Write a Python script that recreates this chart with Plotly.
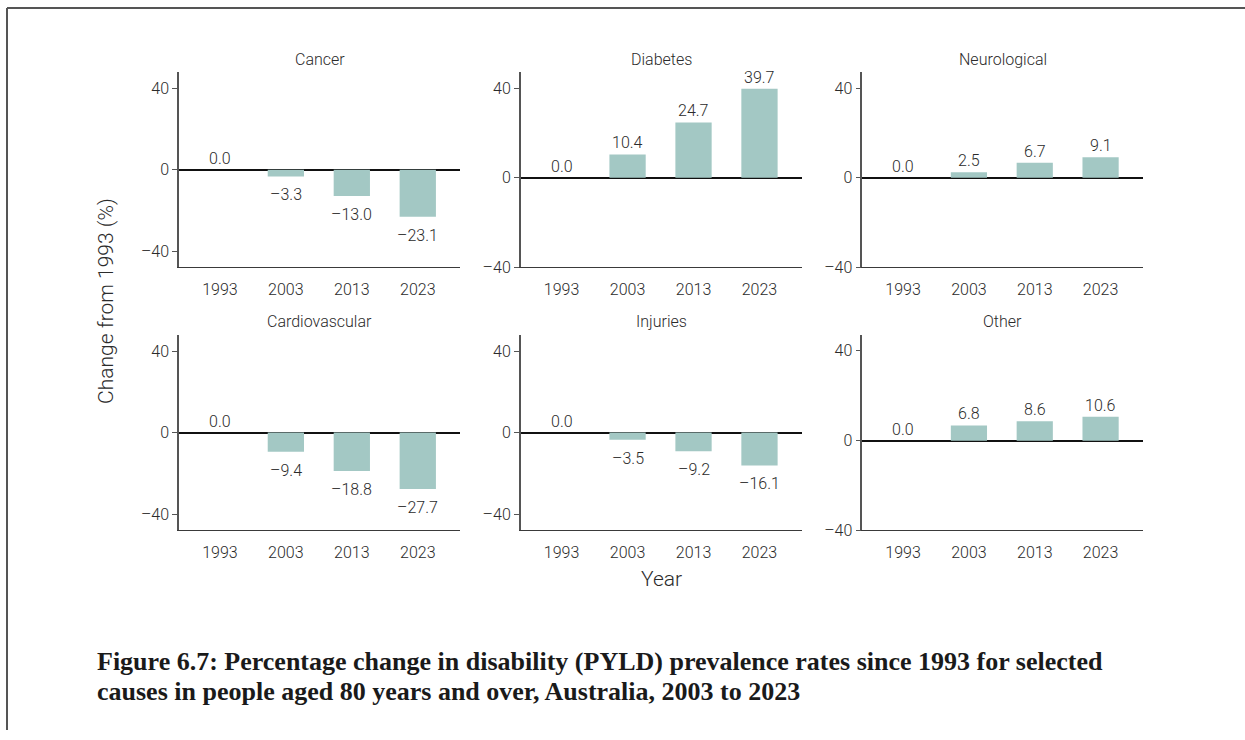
import plotly.graph_objects as go

# Percentage change from 1993 in PYLD prevalence rates, people aged 80+
years = ["1993", "2003", "2013", "2023"]
causes = ["Cancer", "Diabetes", "Neurological", "Cardiovascular", "Injuries", "Other"]
cancer = [0.0, -3.3, -13.0, -23.1]
diabetes = [0.0, 10.4, 24.7, 39.7]
neurological = [0.0, 2.5, 6.7, 9.1]
cardiovascular = [0.0, -9.4, -18.8, -27.7]
injuries = [0.0, -3.5, -9.2, -16.1]
other = [0.0, 6.8, 8.6, 10.6]
series = [cancer, diabetes, neurological, cardiovascular, injuries, other]

y_tick_vals = [-40, 0, 40]
y_tick_text = ["\u201340", "0", "40"]

caption_lines = [
    "Figure 6.7: Percentage change in disability (PYLD) prevalence rates since 1993 for selected",
    "causes in people aged 80 years and over, Australia, 2003 to 2023",
]

W, H = 1245, 740
BAR = "#a3c8c4"
TXT = "#2b2b2b"
SANS = "Roboto, Liberation Sans, sans-serif"
SERIF = "Liberation Serif, Times New Roman, serif"

# panel geometry in pixels (left, right) per column and (top, bottom) per row
cols = [(179, 460), (520.7, 801.7), (862.3, 1142.7)]
rows = [(73, 271), (339.3, 537.7)]


def fmt(v):
    s = f"{abs(v):.1f}"
    return ("\u2013" + s) if v < 0 else s


def sans(size):
    return dict(family=SANS, size=size, color=TXT, weight=300)


fig = go.Figure()
annotations = []

for i, (name, vals) in enumerate(zip(causes, series)):
    r, c = divmod(i, 3)
    ax = "" if i == 0 else str(i + 1)
    xa, ya = "x" + ax, "y" + ax
    fig.add_trace(go.Bar(
        x=years, y=vals, xaxis=xa, yaxis=ya, width=0.55,
        marker=dict(color=BAR, line=dict(width=0)),
        hoverinfo="x+y", showlegend=False,
    ))
    x0, x1 = cols[c]
    t, b = rows[r]
    neg = min(vals) < 0
    yr = [-48, 48] if neg else [-40, 47.2]
    fig.layout["xaxis" + ax] = dict(
        domain=[x0 / W, x1 / W], anchor=ya, type="category",
        range=[-0.62, 3.64], showline=True, linecolor="#3a3a3a", linewidth=1.3,
        ticks="", ticklabelstandoff=7, showgrid=False, zeroline=False,
        tickfont=sans(16), fixedrange=True,
    )
    fig.layout["yaxis" + ax] = dict(
        domain=[1 - b / H, 1 - t / H], anchor=xa, range=yr,
        tickvals=y_tick_vals, ticktext=y_tick_text,
        ticks="outside", ticklen=5, tickcolor="#555", tickwidth=1,
        showline=True, linecolor="#555", linewidth=1.5,
        showgrid=False, zeroline=True, zerolinecolor="#111", zerolinewidth=1.6,
        tickfont=sans(16), fixedrange=True,
    )
    # panel title
    annotations.append(dict(
        text=name, xref="paper", yref="paper",
        x=(x0 + x1) / 2 / W, y=1 - (t - 13) / H,
        xanchor="center", yanchor="middle", showarrow=False,
        font=sans(16),
    ))
    # value labels, positioned by category index on each panel's axes
    for j, v in enumerate(vals):
        annotations.append(dict(
            text=fmt(v), x=j, y=v, xref=xa, yref=ya, showarrow=False,
            xanchor="center", yanchor="top" if v < 0 else "bottom",
            yshift=-7 if v < 0 else 0,
            font=sans(16),
        ))

# shared axis titles
annotations.append(dict(
    text="Change from 1993 (%)", xref="paper", yref="paper",
    x=106 / W, y=1 - 305 / H, textangle=-90, showarrow=False,
    xanchor="center", yanchor="middle", font=sans(21),
))
annotations.append(dict(
    text="Year", xref="paper", yref="paper",
    x=661 / W, y=1 - 587 / H, showarrow=False,
    xanchor="center", yanchor="middle", font=sans(21),
))
# figure caption, one annotation per line
for k, (line, yc) in enumerate(zip(caption_lines, [671, 701])):
    annotations.append(dict(
        text=line, xref="paper", yref="paper", x=95 / W, y=1 - yc / H,
        xanchor="left", yanchor="middle", align="left", showarrow=False,
        font=dict(family=SERIF, size=26, color="#1a1a1a", weight="bold"),
    ))

fig.update_layout(
    width=W, height=H, margin=dict(l=0, r=0, t=0, b=0),
    paper_bgcolor="white", plot_bgcolor="white",
    annotations=annotations, bargap=0.45,
    shapes=[
        dict(type="line", xref="paper", yref="paper", x0=7 / W, x1=1, y0=1 - 8 / H, y1=1 - 8 / H,
             line=dict(color="#555", width=2)),
        dict(type="line", xref="paper", yref="paper", x0=7 / W, x1=7 / W, y0=0, y1=1 - 8 / H,
             line=dict(color="#555", width=2)),
    ],
)

fig.write_html("out.html", config={"displayModeBar": False})
